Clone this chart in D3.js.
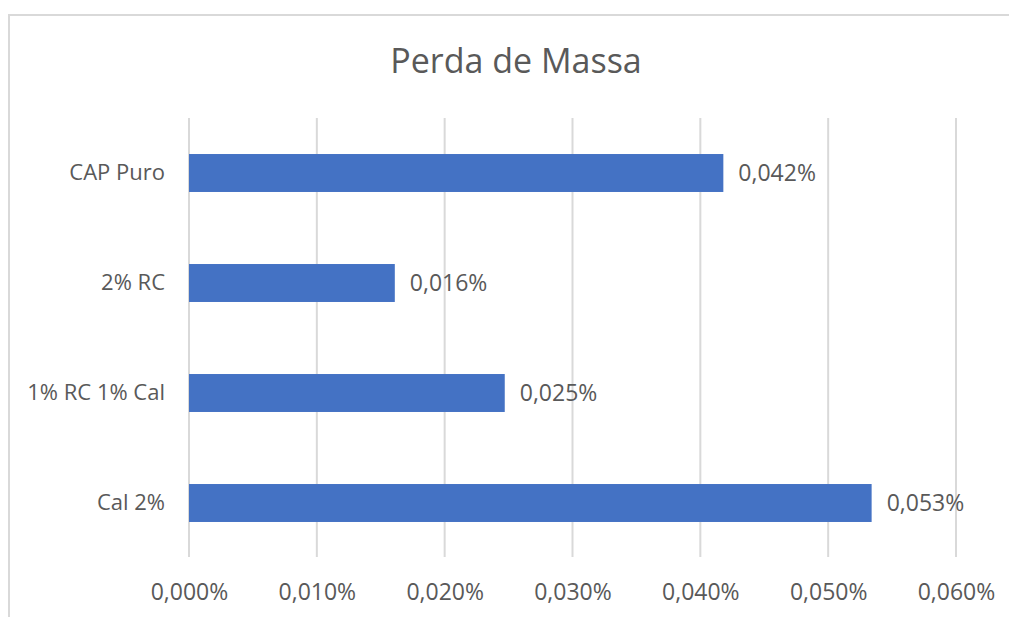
<!DOCTYPE html>
<html>
<head>
<meta charset="utf-8">
<script src="https://cdn.jsdelivr.net/npm/d3@7"></script>
<style>
  body { margin: 0; background: #fff; }
  svg { display: block; }
  text { font-family: "Open Sans", "Noto Sans", sans-serif; fill: #595959; }
</style>
</head>
<body>
<script>
// chart data
var categories = ["CAP Puro", "2% RC", "1% RC 1% Cal", "Cal 2%"];
var values = [0.0418, 0.0161, 0.0247, 0.0534];
var valueLabels = ["0,042%", "0,016%", "0,025%", "0,053%"];
var tickValues = [0, 0.01, 0.02, 0.03, 0.04, 0.05, 0.06];
var tickLabels = ["0,000%", "0,010%", "0,020%", "0,030%", "0,040%", "0,050%", "0,060%"];

var W = 1009, H = 617;
var svg = d3.select("body").append("svg").attr("width", W).attr("height", H);

// chart frame
svg.append("path")
    .attr("d", "M9,617 V15 H1009")
    .attr("fill", "none")
    .attr("stroke", "#d9d9d9")
    .attr("stroke-width", 2);

svg.append("text")
    .attr("x", 516).attr("y", 73)
    .attr("text-anchor", "middle")
    .style("font-size", "34px")
    .text("Perda de Massa");

var x = d3.scaleLinear().domain([0, 0.06]).range([189, 956]);
var y = d3.scaleBand().domain(categories).range([118, 558]).paddingInner(0.655).paddingOuter(0.3275);

// gridlines
svg.append("g").selectAll("line")
    .data(tickValues)
    .join("line")
    .attr("x1", function (d) { return x(d); })
    .attr("x2", function (d) { return x(d); })
    .attr("y1", 118).attr("y2", 557)
    .attr("stroke", "#d9d9d9")
    .attr("stroke-width", 2);

// x axis labels
var xAxis = d3.axisBottom(x).tickValues(tickValues)
    .tickFormat(function (d, i) { return tickLabels[i]; })
    .tickSize(0).tickPadding(0);
var gx = svg.append("g").attr("transform", "translate(0,600)").call(xAxis);
gx.select(".domain").remove();
gx.selectAll("text").attr("dy", 0).style("font-size", "23px").style("font-family", null).attr("fill", null);

// y axis labels
var yAxis = d3.axisLeft(y).tickSize(0).tickPadding(0);
var gy = svg.append("g").attr("transform", "translate(165,0)").call(yAxis);
gy.select(".domain").remove();
gy.selectAll("text").style("font-size", "22px").style("font-family", null).attr("fill", null);

// bars
svg.append("g").selectAll("rect")
    .data(categories)
    .join("rect")
    .attr("x", x(0))
    .attr("y", function (d) { return y(d); })
    .attr("width", function (d, i) { return x(values[i]) - x(0); })
    .attr("height", y.bandwidth())
    .attr("fill", "#4472c4");

// value labels
svg.append("g").selectAll("text")
    .data(categories)
    .join("text")
    .attr("x", function (d, i) { return x(values[i]) + 15; })
    .attr("y", function (d) { return y(d) + y.bandwidth() / 2; })
    .attr("dy", "0.35em")
    .style("font-size", "23px")
    .text(function (d, i) { return valueLabels[i]; });
</script>
</body>
</html>
